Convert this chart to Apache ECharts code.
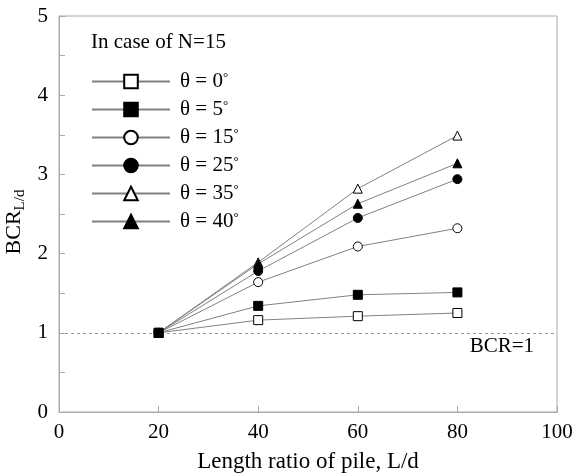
<!DOCTYPE html>
<html>
<head>
<meta charset="utf-8">
<script src="https://cdn.jsdelivr.net/npm/echarts@6/dist/echarts.min.js"></script>
<style>
  html, body { margin: 0; padding: 0; background: #fff; }
  #chart { width: 574px; height: 475px; }
</style>
</head>
<body>
<div id="chart"></div>
<script>
// L/d values
const lengthRatio = [20, 40, 60, 80]
const angles = [0, 5, 15, 25, 35, 40]
// BCR per angle
const bcr0 = [1, 1.16, 1.21, 1.25]
const bcr5 = [1, 1.34, 1.48, 1.51]
const bcr15 = [1, 1.64, 2.09, 2.32]
const bcr25 = [1, 1.78, 2.45, 2.94]
const bcr35 = [1, 1.89, 2.82, 3.49]
const bcr40 = [1, 1.87, 2.63, 3.14]
const bcrValues = [bcr0, bcr5, bcr15, bcr25, bcr35, bcr40]
const yTicks = [0, 1, 2, 3, 4, 5]

const markers = [
  { symbol: 'rect', filled: false },
  { symbol: 'rect', filled: true },
  { symbol: 'circle', filled: false },
  { symbol: 'circle', filled: true },
  { symbol: 'triangle', filled: false },
  { symbol: 'triangle', filled: true }
]

const font = 'Liberation Serif, Times New Roman, serif'

const series = angles.map((a, i) => ({
  name: 'θ = ' + a,
  type: 'line',
  data: lengthRatio.map((x, j) => [x, bcrValues[i][j]]),
  symbol: markers[i].symbol,
  symbolSize: 9,
  z: i === 1 ? 5 : 2,
  lineStyle: { color: '#808080', width: 1 },
  itemStyle: {
    color: markers[i].filled ? '#000' : '#fff',
    borderColor: '#000',
    borderWidth: 1
  },
  emphasis: { disabled: true },
  animation: false
}))

series[0].markLine = {
  silent: true,
  symbol: ['none', 'none'],
  lineStyle: { color: '#999', type: [3, 3], width: 1 },
  label: {
    show: true,
    position: 'insideEndBottom',
    formatter: 'BCR=1',
    fontFamily: font,
    fontSize: 21,
    color: '#000',
    distance: [23, 3]
  },
  data: [{ yAxis: 1 }]
}

const chart = echarts.init(document.getElementById('chart'))
chart.setOption({
  animation: false,
  title: {
    text: 'In case of N=15',
    left: 86,
    top: 27,
    textStyle: { fontFamily: font, fontSize: 21, fontWeight: 'normal', color: '#000' }
  },
  legend: {
    orient: 'vertical',
    left: 86,
    top: 66,
    itemWidth: 78,
    itemHeight: 17,
    itemGap: 7,
    data: series.map(s => s.name),
    formatter: name => '{a|' + name + '}{s|°}',
    textStyle: {
      fontFamily: font,
      fontSize: 21,
      color: '#000',
      padding: [0, 0, 0, 5],
      rich: {
        a: { fontFamily: font, fontSize: 21, color: '#000' },
        s: { fontFamily: font, fontSize: 13, color: '#000', verticalAlign: 'top', padding: [0, 0, 8, 0] }
      }
    },
    selectedMode: false
  },
  grid: {
    left: 59,
    right: 17,
    top: 16,
    bottom: 63,
    outerBoundsMode: 'none',
    show: true,
    borderColor: '#aaa',
    borderWidth: 1
  },
  xAxis: {
    type: 'value',
    min: 0,
    max: 100,
    interval: 20,
    name: 'Length ratio of pile, L/d',
    nameLocation: 'middle',
    nameGap: 38,
    nameTextStyle: { fontFamily: font, fontSize: 23, color: '#000' },
    axisLine: { lineStyle: { color: '#aaa' } },
    axisTick: { inside: true, length: 6, lineStyle: { color: '#aaa' } },
    axisLabel: { fontFamily: font, fontSize: 21, color: '#000', margin: 10 },
    splitLine: { show: false }
  },
  yAxis: {
    type: 'value',
    min: 0,
    max: 5,
    interval: 0.5,
    name: '{a|BCR}{b|L/d}',
    nameLocation: 'middle',
    nameGap: 31,
    nameMoveOverlap: false,
    nameTextStyle: {
      padding: [0, 16, 0, 0],
      rich: {
        a: { fontFamily: font, fontSize: 22, color: '#000', lineHeight: 28 },
        b: { fontFamily: font, fontSize: 15, color: '#000', lineHeight: 28, verticalAlign: 'bottom', padding: [7, 0, 0, 0] }
      }
    },
    axisLine: { lineStyle: { color: '#aaa' } },
    axisTick: { inside: true, length: 6, lineStyle: { color: '#aaa' } },
    axisLabel: {
      fontFamily: font,
      fontSize: 21,
      color: '#000',
      margin: 11,
      formatter: v => (yTicks.indexOf(v) >= 0 ? String(v) : '')
    },
    splitLine: { show: false }
  },
  series: series
})
</script>
</body>
</html>
